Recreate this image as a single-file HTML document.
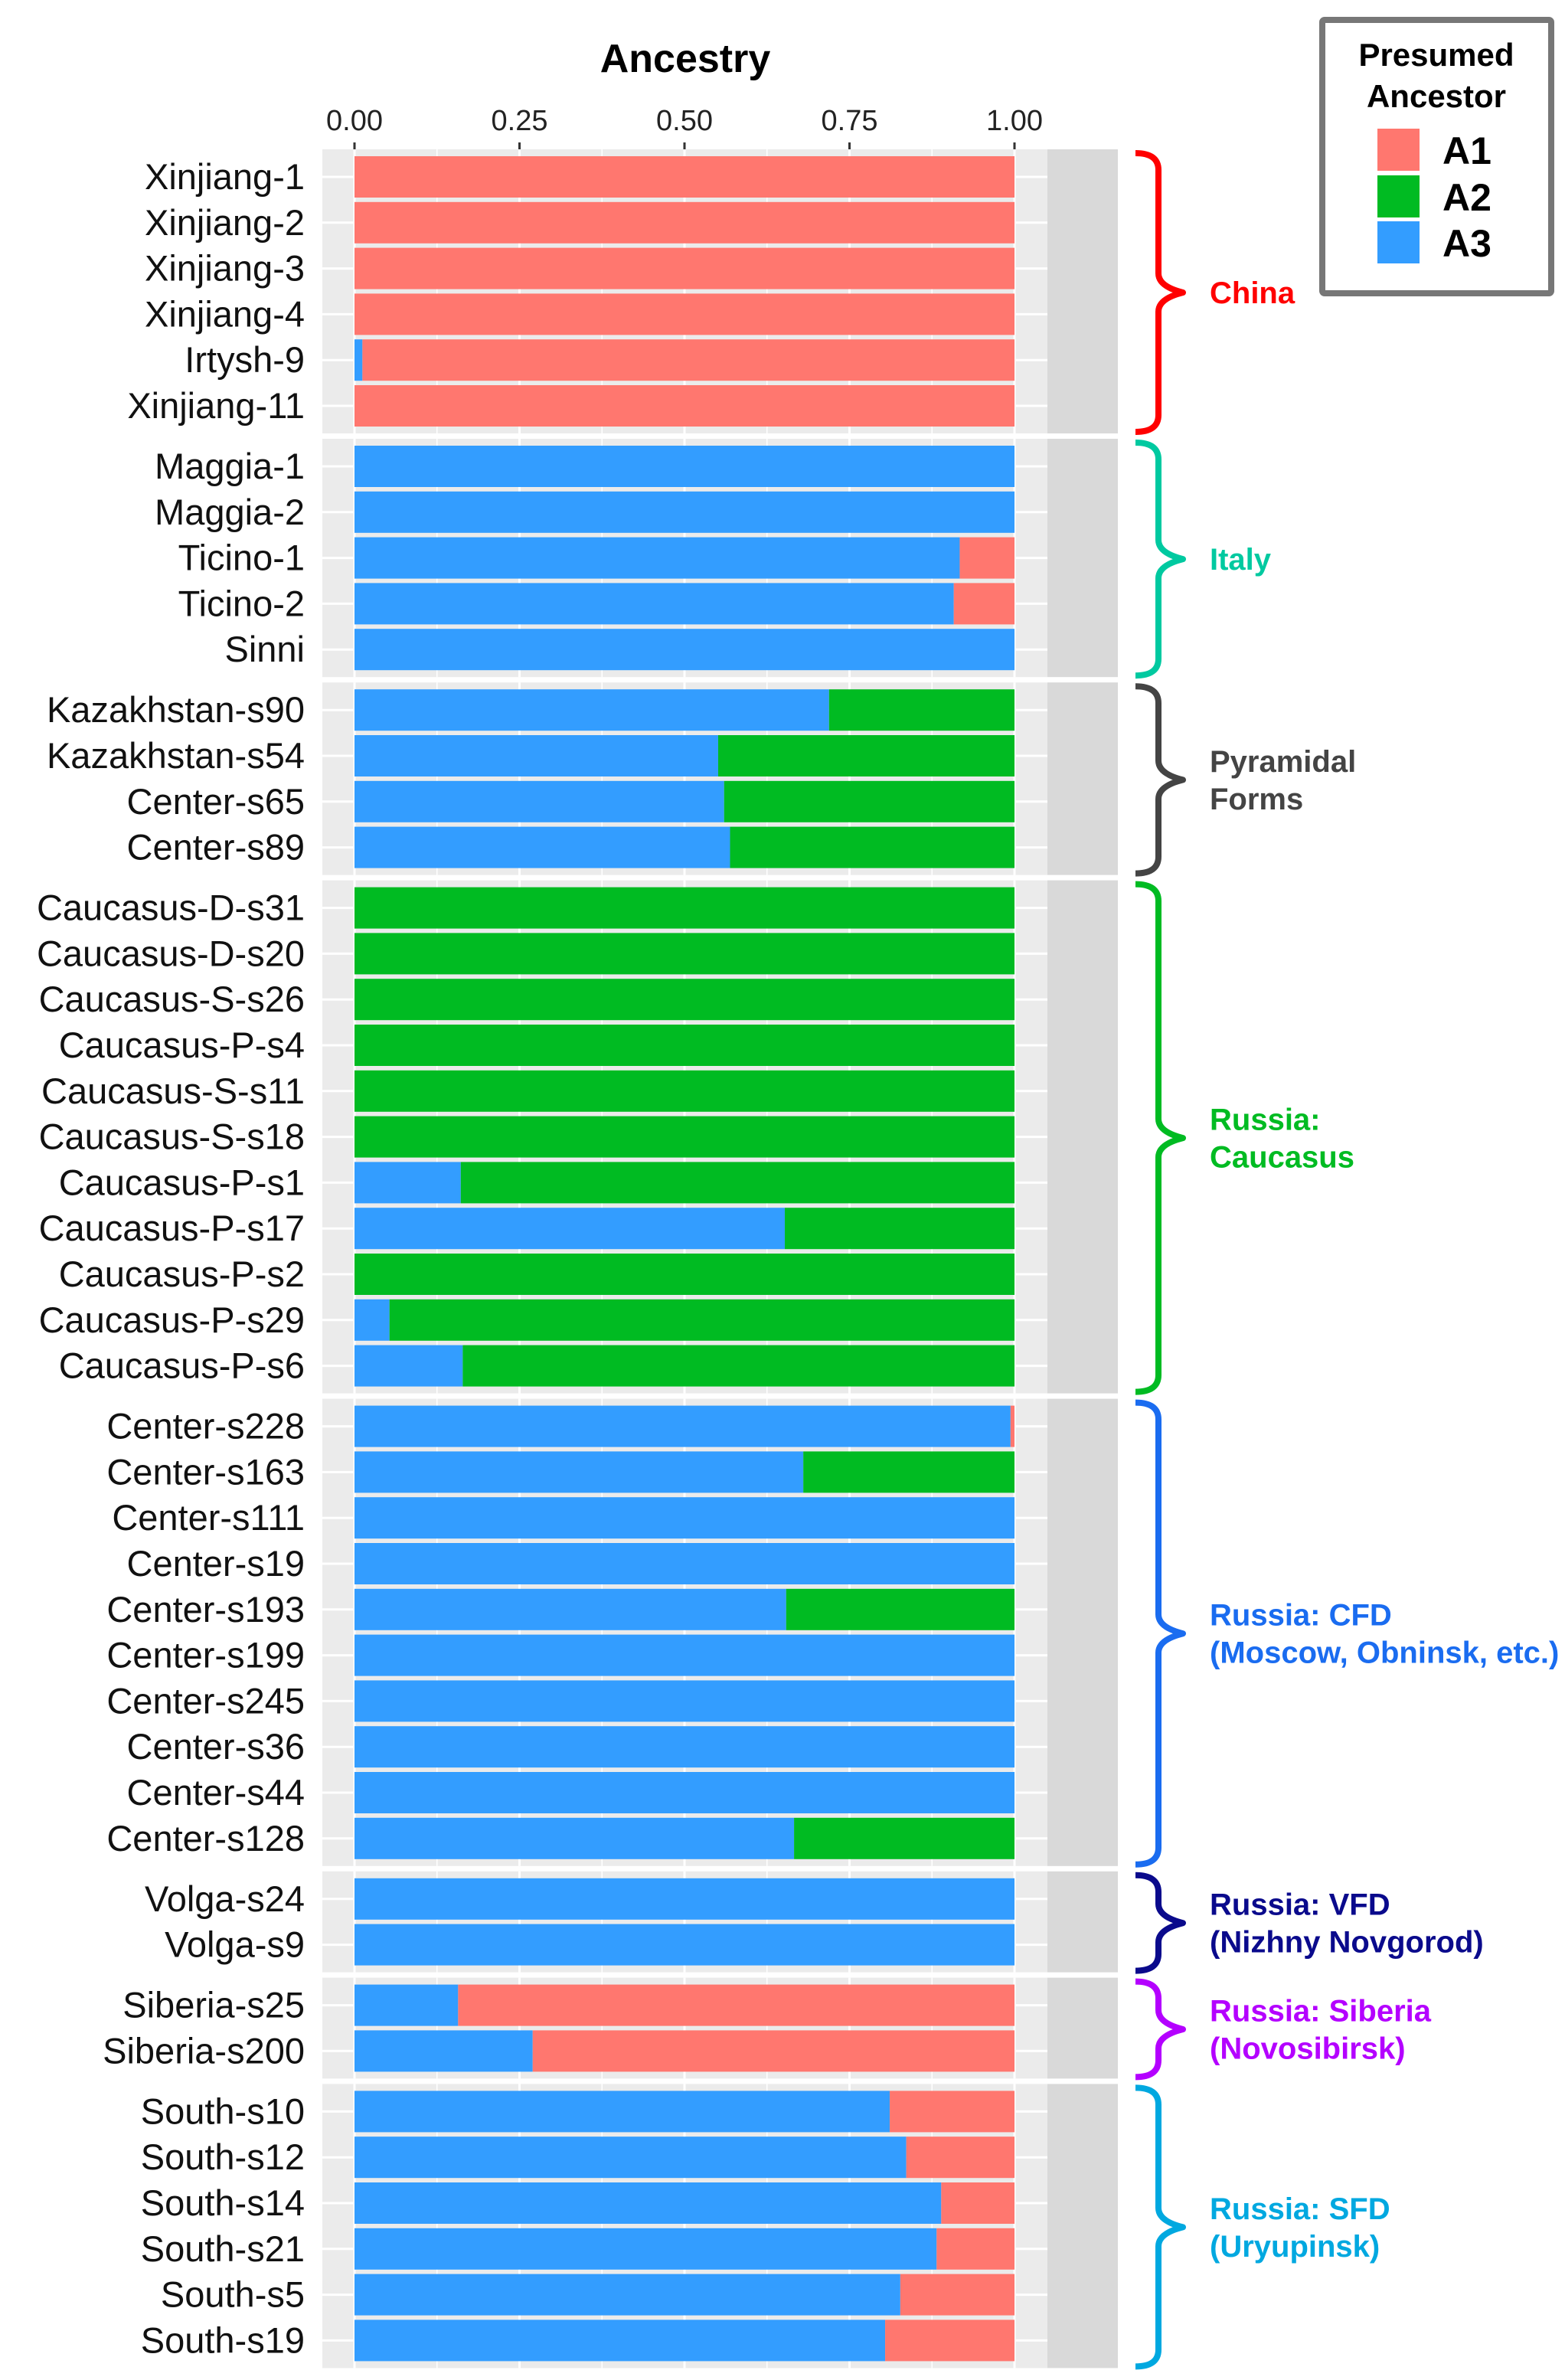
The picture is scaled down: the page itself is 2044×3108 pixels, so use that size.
<!DOCTYPE html>
<html><head><meta charset="utf-8"><style>
html,body{margin:0;padding:0;background:#fff}
svg{display:block}
text{font-family:"Liberation Sans",sans-serif}
</style></head><body>
<svg id="chart" width="2044" height="3108" viewBox="0 0 2044 3108" xmlns="http://www.w3.org/2000/svg">
<text x="895" y="94" font-size="52" font-weight="bold" text-anchor="middle">Ancestry</text>
<g id="legend">
<rect x="1727" y="26" width="299" height="357" fill="#fff" stroke="#777" stroke-width="8" rx="3"/>
<text x="1876" y="86" font-size="42" font-weight="bold" text-anchor="middle">Presumed</text>
<text x="1876" y="140" font-size="42" font-weight="bold" text-anchor="middle">Ancestor</text>
<rect x="1799" y="168" width="55" height="55" fill="#FF776F"/>
<rect x="1799" y="229" width="55" height="55" fill="#00BB22"/>
<rect x="1799" y="289" width="55" height="55" fill="#339DFF"/>
<text x="1884" y="214" font-size="50" font-weight="bold">A1</text>
<text x="1884" y="275" font-size="50" font-weight="bold">A2</text>
<text x="1884" y="335" font-size="50" font-weight="bold">A3</text>
</g>
</svg>
<script>
const groups = ["China","Italy","Pyramidal Forms","Russia: Caucasus","Russia: CFD","Russia: VFD","Russia: Siberia","Russia: SFD"];
const groupLines = [["China"],["Italy"],["Pyramidal","Forms"],["Russia:","Caucasus"],["Russia: CFD","(Moscow, Obninsk, etc.)"],["Russia: VFD","(Nizhny Novgorod)"],["Russia: Siberia","(Novosibirsk)"],["Russia: SFD","(Uryupinsk)"]];
const groupColors = ["#FF0000","#00C9A0","#444444","#00BB22","#1A6CF0","#0A0A8C","#B400FF","#00A8E0"];
const groupSizes = [6,5,4,11,10,2,2,6];
const samples = ["Xinjiang-1","Xinjiang-2","Xinjiang-3","Xinjiang-4","Irtysh-9","Xinjiang-11",
"Maggia-1","Maggia-2","Ticino-1","Ticino-2","Sinni",
"Kazakhstan-s90","Kazakhstan-s54","Center-s65","Center-s89",
"Caucasus-D-s31","Caucasus-D-s20","Caucasus-S-s26","Caucasus-P-s4","Caucasus-S-s11","Caucasus-S-s18","Caucasus-P-s1","Caucasus-P-s17","Caucasus-P-s2","Caucasus-P-s29","Caucasus-P-s6",
"Center-s228","Center-s163","Center-s111","Center-s19","Center-s193","Center-s199","Center-s245","Center-s36","Center-s44","Center-s128",
"Volga-s24","Volga-s9","Siberia-s25","Siberia-s200",
"South-s10","South-s12","South-s14","South-s21","South-s5","South-s19"];
const a3 = [0,0,0,0,0.012,0, 1,1,0.917,0.908,1, 0.719,0.551,0.56,0.569,
0,0,0,0,0,0,0.161,0.652,0,0.053,0.164,
0.994,0.68,1,1,0.654,1,1,1,1,0.666, 1,1, 0.157,0.27,
0.811,0.836,0.889,0.882,0.827,0.804];
const a2 = [0,0,0,0,0,0, 0,0,0,0,0, 0.281,0.449,0.44,0.431,
1,1,1,1,1,1,0.839,0.348,1,0.947,0.836,
0,0.32,0,0,0.346,0,0,0,0,0.334, 0,0, 0,0,
0,0,0,0,0,0];
const a1 = [1,1,1,1,0.988,1, 0,0,0.083,0.092,0, 0,0,0,0,
0,0,0,0,0,0,0,0,0,0,0,
0.006,0,0,0,0,0,0,0,0,0, 0,0, 0.843,0.73,
0.189,0.164,0.111,0.118,0.173,0.196];
const xTicks = [0,0.25,0.5,0.75,1];
const xTickLabels = ["0.00","0.25","0.50","0.75","1.00"];

const NS="http://www.w3.org/2000/svg";
const svg=document.getElementById('chart');
function mk(tag,attrs,parent){const e=document.createElementNS(NS,tag);for(const k in attrs)e.setAttribute(k,attrs[k]);(parent||svg).appendChild(e);return e;}
const X0=463,X1=1325,PL=421,PR=1368,SR=1460;
const xs=v=>X0+(X1-X0)*v;
const PITCH=59.8,BARH=54,PAD=9,GAP=7,TOP=195;
const colA3="#339DFF",colA2="#00BB22",colA1="#FF776F";
xTicks.forEach((t,i)=>{
  const tk=mk('line',{x1:xs(t),x2:xs(t),y1:186,y2:195,stroke:'#333','stroke-width':3});
  
  
  const tl=mk('text',{x:xs(t),y:170,'font-size':38,'text-anchor':'middle',fill:'#222'});
  tl.textContent=xTickLabels[i];
  
  
});
let y=TOP,idx=0;
groupSizes.forEach((n,g)=>{
  const h=n*PITCH-(PITCH-BARH)+2*PAD;
  const pg=mk('g',{});
  
  
  mk('rect',{x:PL,y:y,width:PR-PL,height:h,fill:'#EBEBEB'},pg);
  mk('rect',{x:PR,y:y,width:SR-PR,height:h,fill:'#D9D9D9'},pg);
  for(let m=0.125;m<=1.001;m+=0.125){
    const major=Math.abs(m*4-Math.round(m*4))<1e-6;
    mk('line',{x1:xs(m),x2:xs(m),y1:y,y2:y+h,stroke:'#fff','stroke-width':major?3:1.5},pg);
  }
  mk('line',{x1:xs(0),x2:xs(0),y1:y,y2:y+h,stroke:'#fff','stroke-width':3},pg);
  for(let r=0;r<n;r++){
    const i=idx+r, by=y+PAD+r*PITCH, cy=by+BARH/2;
    mk('line',{x1:PL,x2:PR,y1:cy,y2:cy,stroke:'#fff','stroke-width':3},pg);
    let acc=0;
    [[a3[i],colA3,'a3'],[a2[i],colA2,'a2'],[a1[i],colA1,'a1']].forEach(([v,c,k])=>{
      if(v>0){
        const b=mk('rect',{x:xs(acc),y:by,width:xs(acc+v)-xs(acc),height:BARH,fill:c},pg);
        
        
      }
      acc+=v;
    });
    const lt=mk('text',{x:398,y:cy+16,'font-size':47,'text-anchor':'end',fill:'#111'});
    lt.textContent=samples[i];
    
    
  }
  const t=y+5,b=y+h-2,mid=(t+b)/2,xv=1513;
  const d=`M1483 ${t} Q${xv} ${t} ${xv} ${t+22} L${xv} ${mid-25} Q${xv} ${mid-8} 1545 ${mid} Q${xv} ${mid+8} ${xv} ${mid+25} L${xv} ${b-22} Q${xv} ${b} 1483 ${b}`;
  const br=mk('path',{d:d,fill:'none',stroke:groupColors[g],'stroke-width':8,'stroke-linejoin':'round'});
  
  
  const lines=groupLines[g];
  lines.forEach((s,li)=>{
    const tx=mk('text',{x:1580,y:mid+14+(li-(lines.length-1)/2)*49,'font-size':40,'font-weight':'bold',fill:groupColors[g]});
    tx.textContent=s;
    
    
  });
  idx+=n; y+=h+GAP;
});
</script>
</body></html>
